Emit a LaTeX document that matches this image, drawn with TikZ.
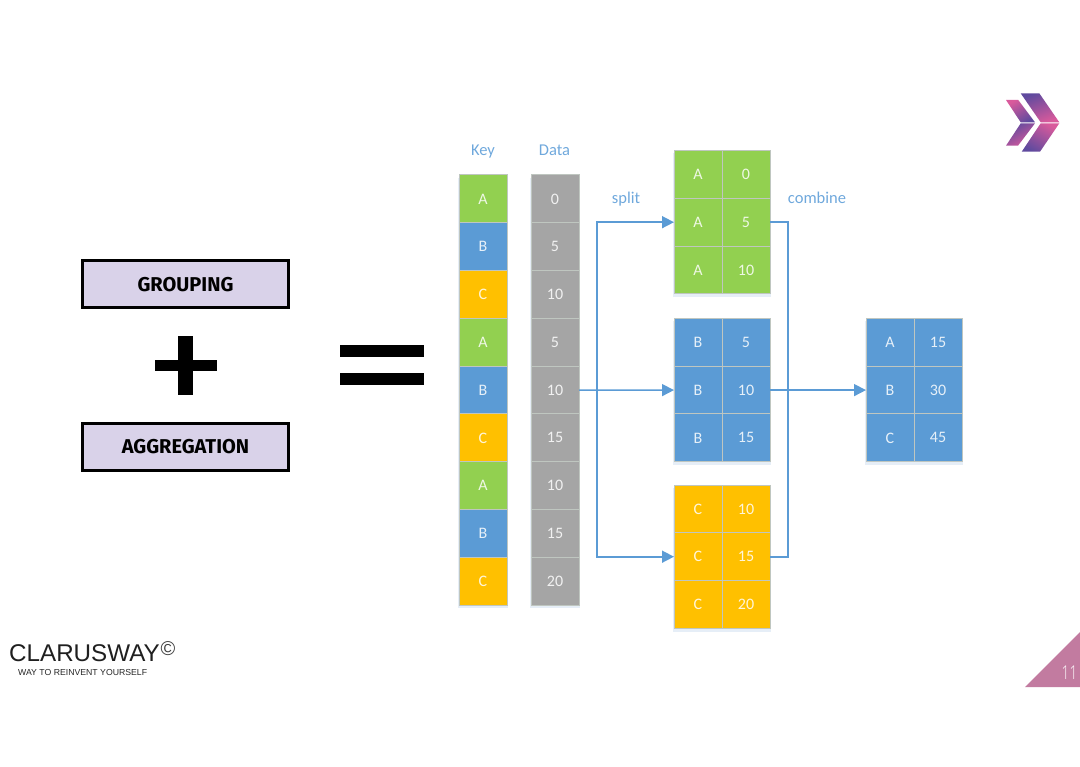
\documentclass[tikz,border=0pt]{standalone}
\usepackage{fontspec}
\setmainfont{Carlito}
\newfontfamily\headfont{Fira Sans}
\newfontfamily\logofont{Liberation Sans}
\newfontfamily\numfont{Open Sans Light}[UprightFont={Open Sans Light}]
\usetikzlibrary{arrows.meta,calc}
\definecolor{cgreen}{HTML}{92D050}
\definecolor{cblue}{HTML}{5B9BD5}
\definecolor{cyellow}{HTML}{FFC000}
\definecolor{cgray}{HTML}{A5A5A5}
\definecolor{cline}{HTML}{BFC6C0}
\definecolor{clabel}{HTML}{6FA8DC}
\definecolor{clilac}{HTML}{D9D2E9}
\definecolor{cpink}{HTML}{C27BA0}
\definecolor{lpurple}{HTML}{5F4A9E}
\definecolor{lpink}{HTML}{D95A9C}
\definecolor{cshadow}{HTML}{E6EEF7}
\tikzset{
  x=1pt,y=-1pt,
  cellbase/.style={draw=cline,line width=1pt,outer sep=0pt,minimum width=48pt,minimum height=47.8pt,inner sep=0pt,text=white,text opacity=.85,font=\fontsize{16}{16}\selectfont,anchor=north west},
  gc/.style={cellbase,fill=cgreen},
  bc/.style={cellbase,fill=cblue},
  yc/.style={cellbase,fill=cyellow},
  grc/.style={cellbase,fill=cgray},
  shadowbox/.style={fill=cshadow},
  lab/.style={text=clabel,font=\fontsize{16.5}{17}\selectfont,inner sep=0pt,anchor=base},
  headbox/.style={draw=black,line width=3pt,fill=clilac,minimum width=206pt,minimum height=47pt,inner sep=0pt,font=\headfont\bfseries\fontsize{20}{20}\selectfont},
  conn/.style={draw=cblue,line width=1.6pt},
  arr/.style={conn,-{Triangle[length=12pt,width=12pt]}},
}
\begin{document}
\begin{tikzpicture}
\useasboundingbox (0,0) rectangle (1080,767);
% shadows
\fill[shadowbox] (458,178) rectangle (508,608);
\fill[shadowbox] (530,178) rectangle (580,608);
\fill[shadowbox] (673,153) rectangle (771,297);
\fill[shadowbox] (673,321) rectangle (771,465);
\fill[shadowbox] (673,488) rectangle (771,632);
\fill[shadowbox] (865,321) rectangle (963,465);
% key column
\foreach \n/\st/\t [count=\i from 0] in {k1/gc/A,k2/bc/B,k3/yc/C,k4/gc/A,k5/bc/B,k6/yc/C,k7/gc/A,k8/bc/B,k9/yc/C}
  \node[\st] (\n) at (459,175+47.8*\i) {\t};
% data column
\foreach \n/\t [count=\i from 0] in {d1/0,d2/5,d3/10,d4/5,d5/10,d6/15,d7/10,d8/15,d9/20}
  \node[grc] (\n) at (531,175+47.8*\i) {\t};
% groups
\foreach \n/\st/\t/\cx/\cy in {a1l/gc/A/674/150.5,a1r/gc/0/722/150.5,a2l/gc/A/674/198.3,a2r/gc/5/722/198.3,a3l/gc/A/674/246.1,a3r/gc/10/722/246.1,
  b1l/bc/B/674/318.4,b1r/bc/5/722/318.4,b2l/bc/B/674/366.2,b2r/bc/10/722/366.2,b3l/bc/B/674/414,b3r/bc/15/722/414,
  c1l/yc/C/674/485,c1r/yc/10/722/485,c2l/yc/C/674/532.8,c2r/yc/15/722/532.8,c3l/yc/C/674/580.6,c3r/yc/20/722/580.6,
  r1l/bc/A/866/318.4,r1r/bc/15/914/318.4,r2l/bc/B/866/366.2,r2r/bc/30/914/366.2,r3l/bc/C/866/414,r3r/bc/45/914/414}
  \node[\st] (\n) at (\cx,\cy) {\t};
% labels
\node[lab] (keylab) at (483,156) {Key};
\node[lab] (datalab) at (554.5,156) {Data};
\node[lab] (splitlab) at (626,204) {split};
\node[lab] (combinelab) at (817,204) {combine};
% connectors
\coordinate (splitpt) at (597,390.1);
\coordinate (combpt) at (788,390.1);
\draw[arr] (d5.east) -- (b2l.west);
\draw[arr] (splitpt) |- (a2l.west);
\draw[arr] (splitpt) |- (c2l.west);
\draw[conn] (a2r.east) -| (combpt);
\draw[conn] (c2r.east) -| (combpt);
\draw[arr] (b2r.east) -- (r2l.west);
% left boxes
\node[headbox] (grouping) at (185.5,284.5) {\raisebox{-.8pt}{GROUPING}};
\node[headbox] (aggregation) at (185.5,447) {\raisebox{-.4pt}{AGGREGATION}};
% plus and equals
\fill[black] (178,336) rectangle (193,395);
\fill[black] (155,360) rectangle (217,371);
\fill[black] (340,345) rectangle (424,357);
\fill[black] (340,373) rectangle (424,385);
% logo arrows
\path[left color=lpurple,right color=lpink,shading angle=20] (1020.7,93.3) -- (1039.3,93.3) -- (1059.3,122.3) -- (1040.7,122.3) -- cycle;
\path[left color=lpink,right color=lpurple,shading angle=-30] (1040.7,123.3) -- (1059.3,123.3) -- (1040,151.7) -- (1021.7,151.7) -- cycle;
\path[left color=lpink,right color=lpurple,shading angle=30] (1006,100) -- (1018.3,100) -- (1035,122.3) -- (1020.7,122.3) -- cycle;
\path[left color=lpurple,right color=lpink,shading angle=30] (1020.7,123.3) -- (1035,123.3) -- (1018,145.7) -- (1006,145.7) -- cycle;
% corner triangle
\fill[cpink] (1080,632) -- (1080,687) -- (1025,687) -- cycle;
\node[text=white,font=\numfont\fontsize{19}{19}\selectfont,inner sep=0pt] (pageno) at (1069.5,673) {\scalebox{0.72}[1]{11}};
% brand
\node[anchor=west,inner sep=0pt,font=\logofont\fontsize{24.2}{25}\selectfont,text=black!88] (brand) at (9,653) {CLARUSWAY};
\node[inner sep=0pt,font=\logofont\fontsize{20}{20}\selectfont,text=black!75] (copy) at (168,649) {©};
\node[anchor=west,inner sep=0pt,font=\logofont\fontsize{8.7}{9}\selectfont,text=black!85] (slogan) at (18,672.5) {WAY TO REINVENT YOURSELF};
\end{tikzpicture}
\end{document}
